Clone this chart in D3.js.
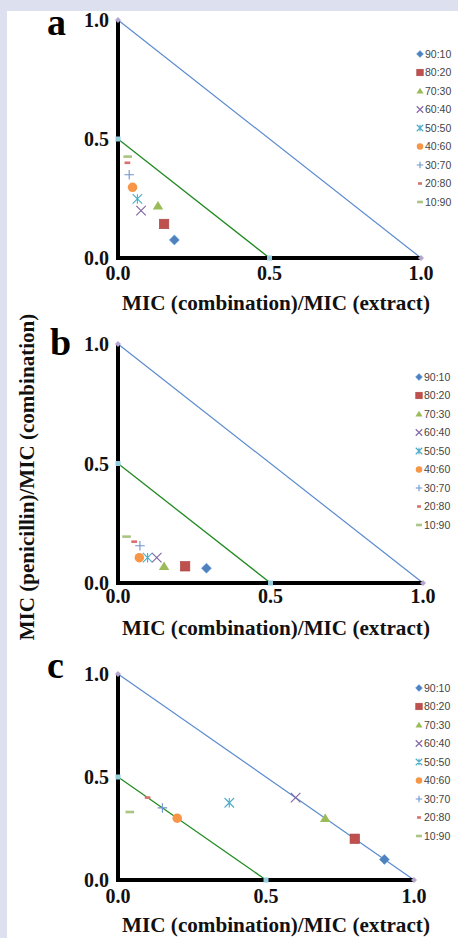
<!DOCTYPE html>
<html>
<head>
<meta charset="utf-8">
<script src="https://cdn.jsdelivr.net/npm/d3@7"></script>
<style>
  html, body { margin: 0; padding: 0; background: #dde0ef; }
  svg { display: block; }
</style>
</head>
<body>
<svg id="chart" width="458" height="938"></svg>
<script>
// ratio labels (extract : penicillin)
const ratios = ['90:10', '80:20', '70:30', '60:40', '50:50', '40:60', '30:70', '20:80', '10:90'];
const ratioColors = ['#4f81bd', '#c0504d', '#9bbb59', '#8064a2', '#4bacc6', '#f79646', '#6f93cc', '#d9706d', '#a9c483'];
const ratioShapes = ['diamond', 'square', 'triangle', 'x', 'star', 'circle', 'plus', 'dashShort', 'dashLong'];

// panel a
const aX = [0.186, 0.152, 0.132, 0.076, 0.064, 0.048, 0.037, 0.031, 0.032];
const aY = [0.076, 0.143, 0.22, 0.199, 0.248, 0.297, 0.35, 0.40, 0.426];
// panel b
const bX = [0.29, 0.22, 0.151, 0.127, 0.097, 0.07, 0.072, 0.053, 0.028];
const bY = [0.062, 0.07, 0.07, 0.106, 0.106, 0.106, 0.156, 0.173, 0.194];
// panel c
const cX = [0.9, 0.8, 0.7, 0.6, 0.376, 0.2, 0.15, 0.1, 0.04];
const cY = [0.1, 0.2, 0.3, 0.4, 0.375, 0.3, 0.35, 0.4, 0.33];

const tickValues = [0, 0.5, 1];
const tickLabels = ['0.0', '0.5', '1.0'];
const additivityLine = [[0, 1], [1, 0]];
const synergyLine = [[0, 0.5], [0.5, 0]];

const xTitle = 'MIC (combination)/MIC (extract)';
const yTitle = 'MIC (penicillin)/MIC (combination)';

const SERIF = '"Liberation Serif", "Times New Roman", serif';

const svg = d3.select('#chart');

// white page
svg.append('rect')
    .attr('x', 7).attr('y', 11)
    .attr('width', 458).attr('height', 938)
    .attr('fill', '#ffffff');

const panels = [
  { letter: 'a', xs: aX, ys: aY, x0: 118, x1: 421, yTop: 20, yBot: 258, lx: 47, ly: 35, legX: 420, legY: 54, tickDy: 22, titleY: 310 },
  { letter: 'b', xs: bX, ys: bY, x0: 118, x1: 423, yTop: 344, yBot: 583, lx: 50, ly: 355, legX: 419, legY: 377, tickDy: 20, titleY: 635 },
  { letter: 'c', xs: cX, ys: cY, x0: 118, x1: 414, yTop: 674, yBot: 880, lx: 47, ly: 678, legX: 419, legY: 688, tickDy: 23, titleY: 932 }
];

// draws a marker at (0,0) inside g
function drawMarker(g, shape, color, s) {
  const lw = 1.1;
  const h = s / 2;
  if (shape === 'diamond') {
    g.append('path').attr('d', `M0,${-h * 1.05}L${h * 1.05},0L0,${h * 1.05}L${-h * 1.05},0Z`)
      .attr('fill', color).attr('stroke', d3.color(color).brighter(0.5)).attr('stroke-width', 0.6);
  } else if (shape === 'square') {
    g.append('rect').attr('x', -h).attr('y', -h).attr('width', s).attr('height', s)
      .attr('fill', color).attr('stroke', d3.color(color).darker(0.4)).attr('stroke-width', 0.6);
  } else if (shape === 'triangle') {
    g.append('path').attr('d', `M0,${-s * 0.5}L${s * 0.55},${s * 0.4}L${-s * 0.55},${s * 0.4}Z`)
      .attr('fill', color);
  } else if (shape === 'circle') {
    g.append('circle').attr('r', h).attr('fill', color);
  } else if (shape === 'x') {
    g.append('path').attr('d', `M${-h},${-h}L${h},${h}M${-h},${h}L${h},${-h}`)
      .attr('stroke', color).attr('stroke-width', lw).attr('fill', 'none');
  } else if (shape === 'plus') {
    g.append('path').attr('d', `M${-h},0L${h},0M0,${-h}L0,${h}`)
      .attr('stroke', color).attr('stroke-width', lw).attr('fill', 'none');
  } else if (shape === 'star') {
    g.append('path').attr('d', `M${-h},${-h}L${h},${h}M${-h},${h}L${h},${-h}M0,${-h}L0,${h}`)
      .attr('stroke', color).attr('stroke-width', lw).attr('fill', 'none');
  } else if (shape === 'dashShort') {
    g.append('rect').attr('x', -s * 0.3).attr('y', -1.3).attr('width', s * 0.6).attr('height', 2.6)
      .attr('fill', color);
  } else if (shape === 'dashLong') {
    g.append('rect').attr('x', -s * 0.45).attr('y', -1.3).attr('width', s * 0.9).attr('height', 2.6)
      .attr('fill', color);
  }
}

// scale a text element's font to a target length
function fitText(t, base, target) {
  const len = t.node().getComputedTextLength();
  t.attr('font-size', base * target / len);
}

panels.forEach((p) => {
  const x = d3.scaleLinear().domain([0, 1]).range([p.x0, p.x1]);
  const y = d3.scaleLinear().domain([0, 1]).range([p.yBot, p.yTop]);
  const g = svg.append('g');

  // reference lines
  const line = d3.line().x((d) => x(d[0])).y((d) => y(d[1]));
  g.append('path').datum(additivityLine).attr('d', line)
      .attr('stroke', '#5b8bcf').attr('stroke-width', 1.2).attr('fill', 'none');
  g.append('path').datum(synergyLine).attr('d', line)
      .attr('stroke', '#1f8a1f').attr('stroke-width', 1.3).attr('fill', 'none');

  // thick axes
  g.append('line').attr('x1', x(0)).attr('x2', x(0)).attr('y1', y(1)).attr('y2', y(0) + 2)
      .attr('stroke', '#000').attr('stroke-width', 4);
  g.append('line').attr('x1', x(0)).attr('x2', x(1)).attr('y1', y(0)).attr('y2', y(0))
      .attr('stroke', '#000').attr('stroke-width', 4);

  // line end markers
  additivityLine.forEach((d) => {
    g.append('path').attr('transform', `translate(${x(d[0])},${y(d[1])})`)
        .attr('d', 'M0,-3L3,0L0,3L-3,0Z').attr('fill', '#b6a5cf');
  });
  synergyLine.forEach((d) => {
    g.append('rect').attr('x', x(d[0]) - 2.5).attr('y', y(d[1]) - 2.5)
        .attr('width', 5).attr('height', 5).attr('fill', '#93cddd');
  });

  // tick labels
  g.selectAll('.ytick').data(tickValues).enter().append('text')
      .attr('x', 109).attr('y', (d) => y(d)).attr('dy', '0.35em')
      .attr('text-anchor', 'end')
      .attr('font-family', SERIF).attr('font-weight', 'bold').attr('font-size', 20)
      .attr('fill', '#111')
      .text((d, i) => tickLabels[i]);
  g.selectAll('.xtick').data(tickValues).enter().append('text')
      .attr('x', (d) => x(d)).attr('y', y(0) + p.tickDy)
      .attr('text-anchor', 'middle')
      .attr('font-family', SERIF).attr('font-weight', 'bold').attr('font-size', 20)
      .attr('fill', '#111')
      .text((d, i) => tickLabels[i]);

  // x axis title
  const xt = g.append('text')
      .attr('x', 276).attr('y', p.titleY)
      .attr('text-anchor', 'middle')
      .attr('font-family', SERIF).attr('font-weight', 'bold').attr('font-size', 19)
      .attr('fill', '#111')
      .text(xTitle);
  fitText(xt, 19, 308);

  // panel letter
  g.append('text')
      .attr('x', p.lx).attr('y', p.ly)
      .attr('font-family', SERIF).attr('font-weight', 'bold').attr('font-size', 38)
      .attr('fill', '#000')
      .text(p.letter);

  // data points
  ratios.forEach((r, i) => {
    const m = g.append('g').attr('transform', `translate(${x(p.xs[i])},${y(p.ys[i])})`);
    drawMarker(m, ratioShapes[i], ratioColors[i], 9.5);
  });

  // legend
  ratios.forEach((r, i) => {
    const ly = p.legY + i * 18.5;
    const m = g.append('g').attr('transform', `translate(${p.legX},${ly})`);
    drawMarker(m, ratioShapes[i], ratioColors[i], 6.5);
    g.append('text')
        .attr('x', p.legX + 5).attr('y', ly).attr('dy', '0.35em')
        .attr('font-family', '"Liberation Sans", Arial, sans-serif').attr('font-size', 10.5)
        .attr('fill', '#444')
        .text(r);
  });
});

// shared y axis title
const yt = svg.append('text')
    .attr('transform', 'translate(34,477) rotate(-90)')
    .attr('text-anchor', 'middle')
    .attr('font-family', SERIF).attr('font-weight', 'bold').attr('font-size', 20)
    .attr('fill', '#111')
    .text(yTitle);
fitText(yt, 20, 327);
</script>
</body>
</html>
